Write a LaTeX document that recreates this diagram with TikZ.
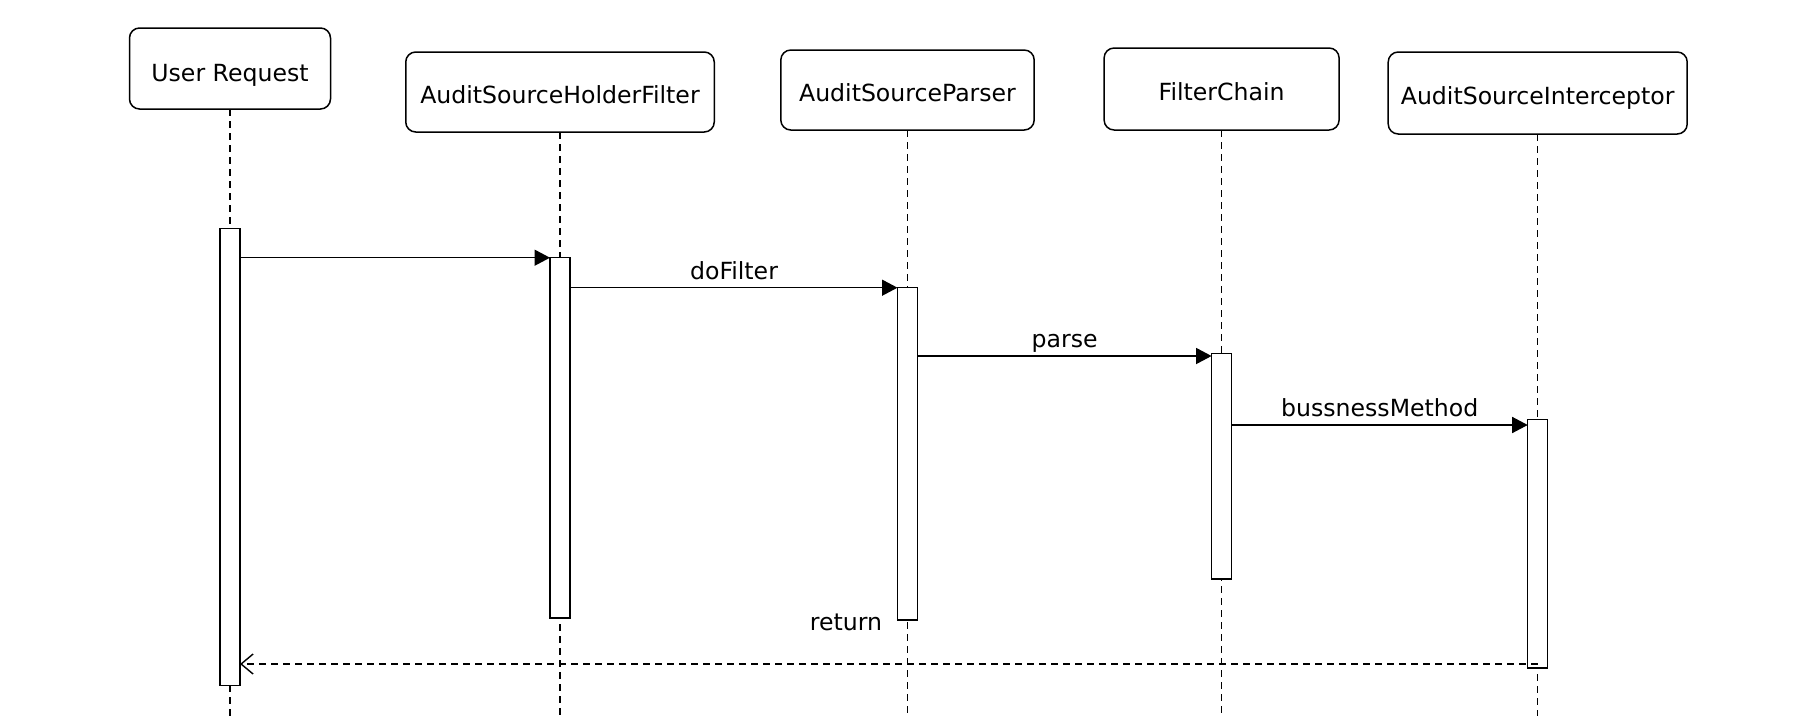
\documentclass[tikz,border=0pt]{standalone}
\usepackage{fontspec}
\setmainfont{DejaVu Sans}
\usetikzlibrary{arrows.meta,calc}
\begin{document}
\begin{tikzpicture}[x=1pt,y=-1pt,
  every node/.style={font=\fontsize{23.6}{28}\selectfont},
  lane/.style={draw, rounded corners=10pt, line width=1.5pt, inner sep=0pt, outer sep=0pt, text height=22pt, text depth=0pt, fill=white},
  bar/.style={draw, fill=white, line width=1.5pt, minimum width=20pt, inner sep=0pt, outer sep=0pt, anchor=north},
  life/.style={line width=1.4pt, dash pattern=on 7pt off 5pt},
  msg/.style={line width=1.5pt, -{Triangle[length=15.5pt,width=16pt]}},
  ret/.style={line width=1.5pt, dash pattern=on 7pt off 5pt, -{Straight Barb[length=12pt,width=20pt,line width=1.4pt]}},
  lbl/.style={anchor=base, inner sep=0pt}]
\useasboundingbox (0,0) rectangle (1809,716);
% participants
\node[lane, minimum width=201pt, minimum height=81pt, text height=26.4pt] (ur) at (230,68.5) {User Request};
\node[lane, minimum width=308.5pt, minimum height=80pt] (ashf) at (560,92) {AuditSourceHolderFilter};
\node[lane, minimum width=253.4pt, minimum height=80pt] (asp) at (907.5,90) {AuditSourceParser};
\node[lane, minimum width=235pt, minimum height=82pt, text height=23.4pt] (fc) at (1221.6,89) {FilterChain};
\node[lane, minimum width=299pt, minimum height=82pt] (asi) at (1537.7,93) {AuditSourceInterceptor};
% lifeline ends
\coordinate (eUR) at (230,716);
\coordinate (eASHF) at (560,716);
\coordinate (eASP) at (907.5,716);
\coordinate (eFC) at (1221.6,716);
\coordinate (eASI) at (1537.7,716);
\draw[life] (ur.south) -- (eUR);
\draw[life] (ashf.south) -- (eASHF);
\draw[life] (asp.south) -- (eASP);
\draw[life] (fc.south) -- (eFC);
\draw[life] (asi.south) -- (eASI);
% activation bars
\node[bar, minimum height=456.6pt] (bUR) at (230,228.7) {};
\node[bar, minimum height=360.3pt] (bASHF) at (560,257.7) {};
\node[bar, minimum height=332.3pt] (bASP) at (907.5,287.7) {};
\node[bar, minimum height=225.3pt] (bFC) at (1221.6,353.7) {};
\node[bar, minimum height=248.7pt] (bASI) at (1537.7,419.3) {};
% messages
\draw[msg] (bUR.east |- bASHF.north) -- (bASHF.north west);
\draw[msg] (bASHF.east |- bASP.north) -- (bASP.north west);
\draw[msg] (bASP.east |- 0,356) -- (bFC.west |- 0,356);
\draw[msg] (bFC.east |- 0,425) -- (bASI.west |- 0,425);
\draw[ret] (bASI.center |- 0,664) -- (bUR.east |- 0,664);
% labels
\node[lbl] (tDo) at (734,279) {doFilter};
\node[lbl] (tParse) at (1064.7,347.5) {parse};
\node[lbl] (tBiz) at (1379.7,416.7) {bussnessMethod};
\node[lbl] (tRet) at (846,630.7) {return};
\end{tikzpicture}
\end{document}
